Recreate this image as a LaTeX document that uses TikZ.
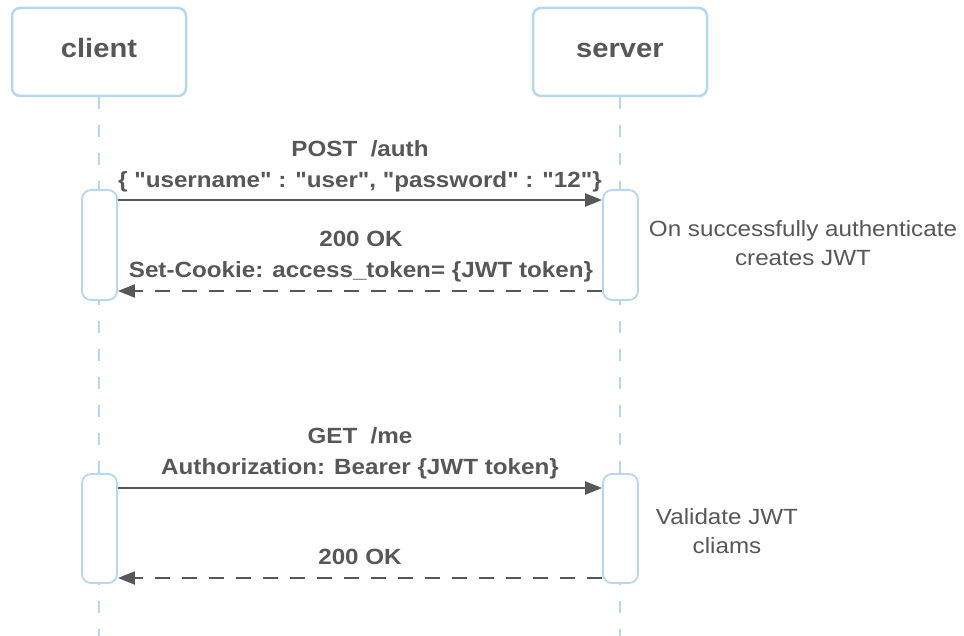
\documentclass[tikz,border=0pt]{standalone}
\usepackage{fontspec}
\setmainfont{Liberation Sans}[Ligatures=TeXOff, FakeStretch=1.1]
\usetikzlibrary{arrows.meta}
\definecolor{lifeblue}{HTML}{B5D8F0}
\definecolor{inkgray}{HTML}{575757}

\begin{document}
\begin{tikzpicture}[x=1pt,y=-1pt,
  actor/.style={draw=lifeblue, line width=2.5pt, rounded corners=8pt,
    minimum width=174pt, minimum height=88pt, fill=white, text=inkgray,
    text height=18pt, text depth=6pt,
    font=\fontsize{26.5}{30}\selectfont\bfseries},
  actbar/.style={draw=lifeblue, line width=1.8pt, rounded corners=9pt,
    minimum width=35pt, minimum height=110pt, fill=white, inner sep=0pt},
  lifeline/.style={draw=lifeblue, line width=2.6pt, dash pattern=on 12pt off 16pt},
  msg/.style={draw=inkgray, line width=2.1pt, -{Triangle[length=17pt,width=13pt]}},
  reply/.style={msg, dash pattern=on 15pt off 12pt},
  msglabel/.style={font=\fontsize{22}{31}\selectfont\bfseries, text=inkgray, align=center},
  note/.style={font=\fontsize{22}{29}\selectfont, text=inkgray, align=center}]
\useasboundingbox (0,0) rectangle (964,636);

% participants
\node[actor] (client) at (99,52) {client};
\node[actor] (server) at (620,52) {server};
\coordinate (cend) at (99,636);
\coordinate (send) at (620,636);

% lifelines
\draw[lifeline] (client.south) -- (cend);
\draw[lifeline] (server.south) -- (send);

% activation bars
\node[actbar] (ca1) at (99.5,245) {};
\node[actbar] (sa1) at (620.5,245) {};
\node[actbar, minimum height=109pt] (ca2) at (99.5,528.5) {};
\node[actbar, minimum height=109pt] (sa2) at (620.5,528.5) {};

% message rows
\coordinate (r1) at (360,200);
\coordinate (r2) at (360,291);
\coordinate (r3) at (360,488);
\coordinate (r4) at (360,578);

\draw[msg] (ca1.east |- r1) -- (sa1.west |- r1);
\draw[reply] (sa1.west |- r2) -- (ca1.east |- r2);
\draw[msg] (ca2.east |- r3) -- (sa2.west |- r3);
\draw[reply] (sa2.west |- r4) -- (ca2.east |- r4);

% message labels
\node[msglabel] (l1) at (360,166) {POST\ \ /auth\\\{ "username" : "user", "password" : "12"\}};
\node[msglabel] (l2) at (361,257) {200 OK\\Set-Cookie: access\_token= \{JWT token\}};
\node[msglabel] (l3) at (360,453) {GET\ \ /me\\Authorization: Bearer \{JWT token\}};
\node[msglabel] (l4) at (360,557) {200 OK};

% notes
\node[note] (n1) at (803,243) {On successfully authenticate\\creates JWT};
\node[note] (n2) at (727,531) {Validate JWT\\cliams};
\end{tikzpicture}
\end{document}
